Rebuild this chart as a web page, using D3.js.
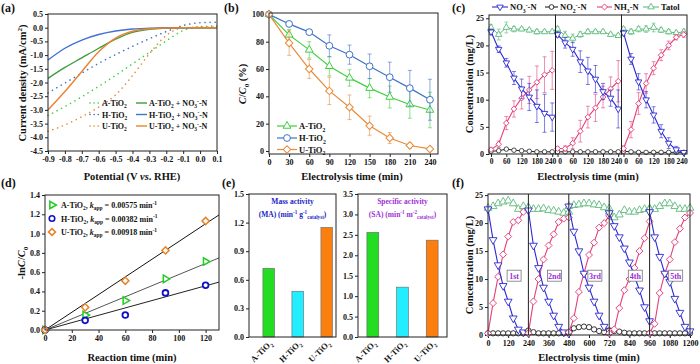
<!DOCTYPE html>
<html>
<head>
<meta charset="utf-8">
<script src="https://cdn.jsdelivr.net/npm/d3@7"></script>
<style>
  body { margin: 0; background: #fff; }
  svg { display: block; }
  text { font-family: "Liberation Serif", "Times New Roman", serif; font-weight: bold; fill: #111; }
</style>
</head>
<body>
<svg class="fig" width="700" height="364"></svg>
<script>
// ---------- (a) LSV curves ----------
let aPotential = [-0.9, -0.8, -0.7, -0.6, -0.5, -0.4, -0.3, -0.2, -0.1, 0.0, 0.1];
let aDotA = [-3.2, -2.88, -2.52, -2.14, -1.74, -1.32, -0.9, -0.48, -0.1, 0.04, 0.06];
let aDotH = [-2.38, -2.02, -1.66, -1.3, -0.98, -0.68, -0.4, -0.14, 0.08, 0.18, 0.2];
let aDotU = [-3.78, -3.55, -3.25, -2.9, -2.45, -1.75, -0.95, -0.28, 0.0, 0.02, 0.02];
let aSolidA = [-1.85, -1.45, -1.1, -0.75, -0.42, -0.17, -0.06, -0.02, 0, 0, 0];
let aSolidH = [-1.18, -0.75, -0.45, -0.25, -0.12, -0.05, -0.02, 0, 0, 0, 0];
let aSolidU = [-3.0, -2.33, -1.6, -0.88, -0.38, -0.13, -0.04, -0.01, 0, 0, 0];
let aXTicks = [-0.9, -0.8, -0.7, -0.6, -0.5, -0.4, -0.3, -0.2, -0.1, 0.0, 0.1];
let aYTicks = [0.5, 0, -0.5, -1, -1.5, -2, -2.5, -3, -3.5, -4, -4.5];

// ---------- (b) C/C0 vs time ----------
let bTime = [0, 30, 60, 90, 120, 150, 180, 210, 240];
let bA = [100, 85, 74, 62, 53.5, 46, 39.5, 34, 30];
let bAErr = [0, 4, 6, 7, 6, 7, 8, 10, 13];
let bH = [100, 93, 87, 77, 70.5, 62, 54, 46, 37.5];
let bHErr = [0, 2, 2, 8, 7, 9, 11, 13, 15];
let bU = [100, 79, 60, 44, 32, 18.5, 9.5, 4, 1.5];
let bUErr = [0, 9, 7, 10, 9, 7, 4, 2, 1];
let bYTicks = [0, 20, 40, 60, 80, 100];

// ---------- (c) three catalysts, N species ----------
let cTime = [0, 30, 60, 90, 120, 150, 180, 210, 240];
let cNO3 = [
  [22.5, 19.3, 16.8, 14.0, 12.0, 10.5, 8.8, 7.5, 6.8],
  [22.0, 20.5, 19.3, 17.0, 15.3, 13.8, 11.5, 10.3, 8.3],
  [22.3, 17.5, 13.3, 10.0, 7.2, 4.2, 2.0, 0.8, 0.3]];
let cNO3Err = [
  [0.5, 0.6, 0.8, 1.2, 1.8, 2.5, 3.0, 3.5, 2.6],
  [0.5, 1.0, 1.3, 2.0, 2.5, 2.5, 1.5, 1.5, 3.5],
  [0.5, 1.0, 1.5, 1.5, 1.5, 1.2, 1.0, 0.6, 0.3]];
let cNO2 = [
  [0.5, 0.6, 0.9, 0.7, 0.6, 0.5, 0.4, 0.4, 0.4],
  [0.4, 0.4, 0.4, 0.4, 0.4, 0.4, 0.4, 0.4, 0.4],
  [0.5, 0.4, 0.3, 0.3, 0.3, 0.3, 0.3, 0.3, 0.3]];
let cNH3 = [
  [0.8, 1.8, 5.7, 8.3, 10.3, 11.8, 13.2, 14.6, 15.4],
  [1.0, 1.0, 2.0, 4.2, 6.8, 8.5, 10.5, 12.0, 13.4],
  [1.0, 4.5, 9.3, 13.0, 15.8, 18.2, 20.0, 21.5, 22.0]];
let cNH3Err = [
  [0.3, 0.6, 1.2, 1.5, 2.0, 2.5, 3.0, 3.3, 3.5],
  [0.3, 0.5, 1.0, 2.0, 2.0, 2.5, 2.0, 2.2, 3.8],
  [0.5, 1.5, 2.0, 1.8, 1.2, 1.0, 0.8, 0.5, 0.5]];
let cTotal = [
  [23.3, 22.0, 23.3, 23.0, 23.0, 22.8, 22.5, 22.5, 22.5],
  [23.0, 21.8, 21.3, 22.0, 22.5, 22.5, 22.5, 22.0, 21.8],
  [23.0, 22.5, 23.0, 23.0, 23.3, 22.8, 22.5, 22.3, 22.5]];
let cTotalErr = [
  [0.5, 1.0, 1.0, 0.5, 0.3, 0.3, 0.4, 0.3, 0.3],
  [0.5, 0.8, 0.8, 0.5, 0.4, 0.3, 0.3, 0.3, 0.3],
  [0.4, 0.5, 0.5, 0.6, 0.8, 0.4, 0.4, 0.3, 0.5]];
let cXTicks = [0, 60, 120, 180, 240];
let cYTicks = [0, 5, 10, 15, 20, 25];

// ---------- (d) kinetics ----------
let dTime = [0, 30, 60, 90, 120];
let dA = [0, 0.155, 0.305, 0.53, 0.71];
let dH = [0, 0.1, 0.155, 0.385, 0.465];
let dU = [0, 0.235, 0.51, 0.825, 1.13];
let dK = [0.00575, 0.00382, 0.00918];
let dFitTime = [0, 130];
let dXTicks = [0, 20, 40, 60, 80, 100, 120];
let dYTicks = [0, 0.2, 0.4, 0.6, 0.8, 1.0, 1.2, 1.4];

// ---------- (e) activities ----------
let eCats = ["A-TiO_{2}", "H-TiO_{2}", "U-TiO_{2}"];
let eMA = [0.72, 0.48, 1.15];
let eSA = [2.56, 1.22, 2.37];
let eMATicks = [0, 0.3, 0.6, 0.9, 1.2, 1.5];
let eSATicks = [0, 0.5, 1.0, 1.5, 2.0, 2.5, 3.0, 3.5];

// ---------- (f) five cycles ----------
let fCycleStart = [0, 240, 480, 720, 960];
let fCycleLabel = ["1st", "2nd", "3rd", "4th", "5th"];
let fTime = [0, 30, 60, 90, 120, 150, 180, 210, 240];
let fNO3 = [
  [22.5, 17.0, 12.5, 8.8, 6.0, 3.0, 1.0, 0.5, 0.4],
  [22.3, 16.0, 12.0, 8.5, 6.0, 3.5, 1.5, 0.5, 0.3],
  [23.0, 18.5, 15.0, 11.0, 8.5, 6.0, 3.5, 1.5, 0.8],
  [21.8, 19.5, 17.5, 15.5, 13.0, 10.5, 8.0, 5.0, 2.5],
  [22.0, 17.5, 14.0, 11.0, 9.5, 6.5, 4.0, 1.5, 0.7]];
let fNO2 = [
  [0.3, 0.3, 0.3, 0.3, 0.3, 0.3, 0.3, 0.3, 0.3],
  [0.8, 0.5, 0.3, 0.3, 0.3, 0.3, 0.3, 0.3, 0.3],
  [0.5, 1.2, 1.4, 1.5, 1.4, 1.0, 0.7, 0.5, 0.3],
  [0.8, 0.7, 0.6, 0.4, 0.3, 0.3, 0.3, 0.3, 0.3],
  [0.3, 0.3, 0.3, 0.3, 0.3, 0.3, 0.3, 0.3, 0.3]];
let fNH3 = [
  [0.3, 5.7, 10.4, 14.4, 17.6, 20.2, 20.5, 22.0, 22.3],
  [0.3, 6.0, 10.0, 13.5, 16.0, 18.0, 20.2, 20.8, 21.0],
  [0.5, 3.0, 7.7, 11.0, 14.3, 16.5, 19.2, 20.0, 21.3],
  [0.3, 1.0, 4.8, 8.0, 10.0, 12.0, 15.0, 17.3, 20.3],
  [0.3, 2.0, 7.5, 11.0, 13.5, 16.6, 19.0, 21.0, 21.8]];
let fTotal = [
  [22.7, 23.0, 23.5, 23.8, 24.0, 23.5, 22.5, 23.0, 22.8],
  [22.8, 22.5, 22.5, 22.6, 22.3, 22.2, 22.0, 21.8, 22.0],
  [23.0, 23.2, 23.3, 23.5, 23.5, 23.3, 23.2, 22.8, 22.6],
  [22.0, 21.0, 21.5, 22.3, 22.0, 22.0, 22.3, 22.5, 22.6],
  [22.5, 22.5, 23.0, 23.5, 23.5, 23.0, 22.5, 22.5, 22.7]];
let fXTicks = [0, 120, 240, 360, 480, 600, 720, 840, 960, 1080, 1200];
let fYTicks = [0, 5, 10, 15, 20, 25];

// colours
let colA = "#3fcf3f", colH = "#3f72c8", colU = "#ea8a3a";
let colNO3 = "#2a2ad2", colNO2 = "#222", colNH3 = "#e63f7a", colTot = "#5dba7c";

let svg = d3.select("svg.fig");

function translate(x, y) {
  return "translate(" + x + "," + y + ")";
}

// text with _{sub}, ^{sup} and *{italic} pieces
function rich(sel, str, fs) {
  let parts = str.match(/_\{[^}]*\}|\^\{[^}]*\}|\*\{[^}]*\}|[^_^*]+/g);
  let shift = 0;
  parts.forEach(p => {
    let t = sel.append("tspan");
    let target = 0, txt = p;
    if (p[0] === "_") { target = fs * 0.3; txt = p.slice(2, -1); t.attr("font-size", fs * 0.68); }
    else if (p[0] === "^") { target = -fs * 0.38; txt = p.slice(2, -1); t.attr("font-size", fs * 0.68); }
    else if (p[0] === "*") { txt = p.slice(2, -1); t.attr("font-style", "italic"); }
    if (target - shift !== 0) t.attr("dy", target - shift);
    t.text(txt);
    shift = target;
  });
  return sel;
}

function label(x, y, str, fs, opts) {
  opts = opts || {};
  let t = svg.append("text")
    .attr("font-size", fs)
    .attr("text-anchor", opts.anchor || "start");
  if (opts.rotate) t.attr("transform", translate(x, y) + " rotate(" + opts.rotate + ")");
  else t.attr("x", x).attr("y", y);
  if (opts.fill) t.style("fill", opts.fill);
  rich(t, str, fs);
  return t;
}

function box(x0, y0, x1, y1) {
  svg.append("rect")
    .attr("x", x0).attr("y", y0)
    .attr("width", x1 - x0).attr("height", y1 - y0)
    .attr("fill", "none").attr("stroke", "#222").attr("stroke-width", 1);
}

function styleAxis(g) {
  g.select(".domain").remove();
  g.attr("font-size", 8);
  g.selectAll("line").attr("stroke", "#222");
}

function xAxis(x, yPix, ticks, fmt) {
  let g = svg.append("g").attr("transform", translate(0, yPix))
    .call(d3.axisBottom(x).tickValues(ticks).tickFormat(fmt).tickSize(3).tickPadding(2).tickSizeOuter(0));
  styleAxis(g);
  return g;
}

function yAxis(y, xPix, ticks, fmt) {
  let g = svg.append("g").attr("transform", translate(xPix, 0))
    .call(d3.axisLeft(y).tickValues(ticks).tickFormat(fmt).tickSize(3).tickPadding(2).tickSizeOuter(0));
  styleAxis(g);
  return g;
}

function marker(g, cx, cy, kind, size, color, sw) {
  let sym = d3.symbolCircle, rot = 0;
  if (kind === "up") sym = d3.symbolTriangle;
  if (kind === "down") { sym = d3.symbolTriangle; rot = 180; }
  if (kind === "right") { sym = d3.symbolTriangle; rot = 90; }
  if (kind === "diamond") { sym = d3.symbolSquare; rot = 45; }
  g.append("path")
    .attr("d", d3.symbol(sym, size)())
    .attr("transform", translate(cx, cy) + " rotate(" + rot + ")")
    .attr("fill", "#fff").attr("stroke", color).attr("stroke-width", sw || 1);
}

// line + error bars + hollow markers
function series(x, y, times, vals, errs, color, kind, size, opts) {
  opts = opts || {};
  let g = svg.append("g");
  let pts = times.map((t, i) => ({ t: t, v: vals[i], e: errs ? errs[i] : 0 }));
  if (errs) {
    pts.filter(d => d.e > 0).forEach(d => {
      let px = x(d.t);
      g.append("line").attr("x1", px).attr("x2", px).attr("y1", y(d.v - d.e)).attr("y2", y(d.v + d.e))
        .attr("stroke", color).attr("stroke-opacity", 0.75).attr("stroke-width", 0.8);
      [d.v - d.e, d.v + d.e].forEach(v => {
        g.append("line").attr("x1", px - 2).attr("x2", px + 2).attr("y1", y(v)).attr("y2", y(v))
          .attr("stroke", color).attr("stroke-opacity", 0.75).attr("stroke-width", 0.8);
      });
    });
  }
  let line = d3.line().x(d => x(d.t)).y(d => y(d.v));
  g.append("path").datum(pts).attr("d", line)
    .attr("fill", "none").attr("stroke", color).attr("stroke-width", opts.lw || 1.2);
  pts.forEach(d => marker(g, x(d.t), y(d.v), kind, size, color, opts.sw || 0.9));
}

// ================= (a) =================
let ax = d3.scaleLinear().domain([-0.9, 0.1]).range([48, 217]);
let ay = d3.scaleLinear().domain([-4.5, 0.5]).range([151, 14]);
xAxis(ax, 151, aXTicks, d => d.toFixed(1));
yAxis(ay, 48, aYTicks, d => d.toFixed(1));
let aLine = d3.line().curve(d3.curveMonotoneX).x((d, i) => ax(aPotential[i])).y(d => ay(d));
[[aDotA, colA], [aDotH, colH], [aDotU, colU]].forEach(s => {
  svg.append("path").datum(s[0]).attr("d", aLine).attr("fill", "none")
    .attr("stroke", s[1]).attr("stroke-width", 1.6).attr("stroke-linecap", "round")
    .attr("stroke-dasharray", "0.1,5");
});
[[aSolidA, "#3d9c3d"], [aSolidH, "#3f72d2"], [aSolidU, "#ea8330"]].forEach(s => {
  svg.append("path").datum(s[0]).attr("d", aLine).attr("fill", "none")
    .attr("stroke", s[1]).attr("stroke-width", 1.4);
});
box(48, 14, 217, 151);
[["A-TiO_{2}", colA, "#3d9c3d", 106], ["H-TiO_{2}", colH, "#3f72d2", 117.5], ["U-TiO_{2}", colU, "#ea8330", 129]].forEach(r => {
  svg.append("line").attr("x1", 90).attr("x2", 100).attr("y1", r[3] - 3).attr("y2", r[3] - 3)
    .attr("stroke", r[1]).attr("stroke-width", 1.6).attr("stroke-linecap", "round").attr("stroke-dasharray", "0.1,4");
  label(102, r[3], r[0], 8);
  svg.append("line").attr("x1", 136).attr("x2", 147).attr("y1", r[3] - 3).attr("y2", r[3] - 3)
    .attr("stroke", r[2]).attr("stroke-width", 1.4);
  label(149, r[3], r[0] + " + NO_{3}^{-}-N", 8);
});
label(132, 180, "Potential (V *{vs}. RHE)", 10.5, { anchor: "middle" });
label(26, 83, "Current density (mA/cm^{2})", 10.5, { anchor: "middle", rotate: -90 });
label(1, 12, "(a)", 12);

// ================= (b) =================
let bx = d3.scaleLinear().domain([0, 252]).range([269, 438]);
let by = d3.scaleLinear().domain([-2.2, 101]).range([154, 13]);
xAxis(bx, 154, bTime, d => d);
yAxis(by, 269, bYTicks, d => d);
series(bx, by, bTime, bA, bAErr, colA, "up", 26, { sw: 1 });
series(bx, by, bTime, bH, bHErr, colH, "circle", 36, { sw: 1 });
series(bx, by, bTime, bU, bUErr, colU, "diamond", 28, { sw: 1 });
box(269, 13, 438, 154);
[["A-TiO_{2}", colA, "up", 26, 126], ["H-TiO_{2}", colH, "circle", 36, 138], ["U-TiO_{2}", colU, "diamond", 28, 149.5]].forEach(r => {
  svg.append("line").attr("x1", 277).attr("x2", 297).attr("y1", r[4]).attr("y2", r[4])
    .attr("stroke", r[1]).attr("stroke-width", 1.2);
  marker(svg, 287, r[4], r[2], r[3], r[1], 1);
  label(299, r[4] + 3, r[0], 8.5);
});
label(352, 180, "Electrolysis time (min)", 10.5, { anchor: "middle" });
label(246, 84, "*{C}/*{C}_{0} (%)", 10.5, { anchor: "middle", rotate: -90 });
label(224, 12, "(b)", 12);

// ================= (c) =================
let cy = d3.scaleLinear().domain([0, 25.6]).range([154, 15]);
let cEdges = [489, 555.5, 621.5, 687];
yAxis(cy, 489, cYTicks, d => d);
for (let k = 0; k < 3; k++) {
  let x = d3.scaleLinear().domain([-8, 253]).range([cEdges[k], cEdges[k + 1]]);
  let g = xAxis(x, 154, cXTicks, d => d);
  g.attr("font-size", 7.5);
  // keep "240" and the next "0" side by side instead of stacked
  g.selectAll(".tick text").attr("dx", d => d === 240 ? -2 : (d === 0 && k > 0 ? 2 : 0));
  series(x, cy, cTime, cNO2[k], null, colNO2, "circle", 16, { lw: 1, sw: 0.8 });
  series(x, cy, cTime, cTotal[k], cTotalErr[k], colTot, "up", 18, { lw: 1, sw: 0.9 });
  series(x, cy, cTime, cNH3[k], cNH3Err[k], colNH3, "diamond", 16, { lw: 1.1, sw: 0.9 });
  series(x, cy, cTime, cNO3[k], cNO3Err[k], colNO3, "down", 18, { lw: 1.1, sw: 0.9 });
  box(cEdges[k], 15, cEdges[k + 1], 154);
}
[["NO_{3}^{-}-N", colNO3, "down", 492, 510], ["NO_{2}^{-}-N", colNO2, "circle", 545, 560],
 ["NH_{3}-N", colNH3, "diamond", 597, 614], ["Tatol", colTot, "up", 643, 661]].forEach(r => {
  svg.append("line").attr("x1", r[3]).attr("x2", r[4] - 2).attr("y1", 7).attr("y2", 7)
    .attr("stroke", r[1]).attr("stroke-width", 1.1);
  marker(svg, (r[3] + r[4] - 2) / 2, 7, r[2], 18, r[1], 0.9);
  label(r[4], 10, r[0], 8.5);
});
label(588, 180, "Electrolysis time (min)", 10.5, { anchor: "middle" });
label(473, 84, "Concentration (mg/L)", 10.5, { anchor: "middle", rotate: -90 });
label(452, 12, "(c)", 12);

// ================= (d) =================
let dx = d3.scaleLinear().domain([0, 130]).range([45, 219]);
let dy = d3.scaleLinear().domain([0, 1.4]).range([330, 195]);
xAxis(dx, 330, dXTicks, d => d);
yAxis(dy, 45, dYTicks, d => d.toFixed(1));
[["#111", dK[2]], ["#555", dK[0]], ["#222", dK[1]]].forEach(f => {
  svg.append("line")
    .attr("x1", dx(dFitTime[0])).attr("y1", dy(f[1] * dFitTime[0]))
    .attr("x2", dx(dFitTime[1])).attr("y2", dy(f[1] * dFitTime[1]))
    .attr("stroke", f[0]).attr("stroke-width", 1);
});
let dG = svg.append("g");
dTime.forEach((t, i) => {
  marker(dG, dx(t), dy(dA[i]), "right", 24, "#22cc22", 1.5);
  marker(dG, dx(t), dy(dH[i]), "circle", 26, "#1010c8", 1.8);
  marker(dG, dx(t), dy(dU[i]), "diamond", 26, "#e8832a", 1.5);
});
box(45, 195, 219, 330);
[["A-TiO_{2}, *{k}_{app} = 0.00575 min^{-1}", "right", "#22cc22", 205],
 ["H-TiO_{2}, *{k}_{app} = 0.00382 min^{-1}", "circle", "#1010c8", 218.5],
 ["U-TiO_{2}, *{k}_{app} = 0.00918 min^{-1}", "diamond", "#e8832a", 232]].forEach(r => {
  marker(svg, 52, r[3], r[1], 24, r[2], 1.6);
  label(61, r[3] + 3, r[0], 8);
});
label(132, 361, "Reaction time (min)", 10.5, { anchor: "middle" });
label(25, 263, "-ln*{C}/*{C}_{0}", 10.5, { anchor: "middle", rotate: -90 });
label(1, 187, "(d)", 12);

// ================= (e) =================
let eColors = ["#22dd22", "#22eeff", "#fb7f0e"];
function barPanel(x0, x1, vals, ticks, yMax, align, title1, title2, tcol) {
  let y = d3.scaleLinear().domain([0, yMax]).range([337, 194]);
  let x = d3.scaleBand().domain(eCats).range([x0, x1]).paddingInner(0.6).paddingOuter(0.3).align(align);
  yAxis(y, x0, ticks, d => d.toFixed(1));
  svg.selectAll(null).data(vals).enter().append("rect")
    .attr("x", (d, i) => x(eCats[i]))
    .attr("y", d => y(d))
    .attr("width", x.bandwidth())
    .attr("height", d => 337 - y(d))
    .attr("fill", (d, i) => eColors[i])
    .attr("stroke", "#666").attr("stroke-width", 0.6);
  box(x0, 194, x1, 337);
  eCats.forEach(c => {
    label(x(c) + x.bandwidth() / 2 + 4, 344, c, 8.5, { anchor: "end", rotate: -45 });
  });
  let cx = (x0 + x1) / 2;
  label(cx, 204, title1, 7.5, { anchor: "middle", fill: tcol });
  label(cx, 217, title2, 7.5, { anchor: "middle", fill: tcol });
}
barPanel(249, 336, eMA, eMATicks, 1.5, 0.8, "Mass activity", "(MA) (min^{-1} g^{-1}_{catalyst})", "#2424c8");
barPanel(358, 447, eSA, eSATicks, 3.5, 0.5, "Specific activity", "(SA) (min^{-1} m^{-2}_{catalyst})", "#a030d8");
label(222, 187, "(e)", 12);

// ================= (f) =================
let fx = d3.scaleLinear().domain([0, 1200]).range([488, 690]);
let fy = d3.scaleLinear().domain([0, 25.2]).range([335, 194]);
xAxis(fx, 335, fXTicks, d => d);
yAxis(fy, 488, fYTicks, d => d);
fCycleStart.forEach((s, k) => {
  let t = fTime.map(d => d + s);
  series(fx, fy, t, fNO2[k], null, colNO2, "circle", 22, { lw: 1, sw: 0.9 });
  series(fx, fy, t, fTotal[k], null, colTot, "up", 26, { lw: 1, sw: 0.9 });
  series(fx, fy, t, fNH3[k], null, colNH3, "diamond", 24, { lw: 1.1, sw: 0.9 });
  series(fx, fy, t, fNO3[k], null, colNO3, "down", 26, { lw: 1.1, sw: 0.9 });
});
fCycleStart.slice(1).forEach(s => {
  svg.append("line").attr("x1", fx(s)).attr("x2", fx(s)).attr("y1", 194).attr("y2", 335)
    .attr("stroke", "#222").attr("stroke-width", 1);
});
box(488, 194, 690, 335);
fCycleLabel.forEach((l, k) => {
  let cx = fx(fCycleStart[k] + 155), cyp = fy(10.6);
  svg.append("rect").attr("x", cx - 7).attr("y", cyp - 5.5).attr("width", 14).attr("height", 11)
    .attr("fill", "#fff").attr("stroke", "#777").attr("stroke-width", 0.8);
  label(cx, cyp + 3, l, 8, { anchor: "middle", fill: "#9a2ed8" });
});
label(589, 361, "Electrolysis time (min)", 10.5, { anchor: "middle" });
label(473, 265, "Concentration (mg/L)", 10.5, { anchor: "middle", rotate: -90 });
label(452, 187, "(f)", 12);
</script>
</body>
</html>
